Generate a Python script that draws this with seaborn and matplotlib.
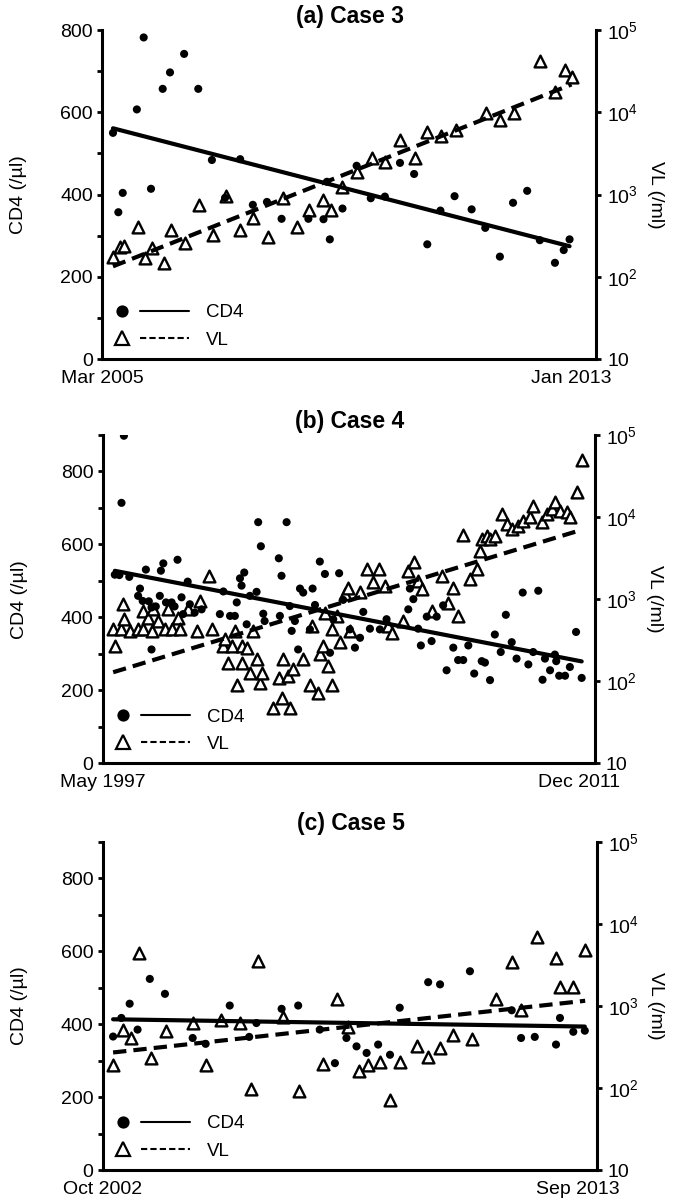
import numpy as np
import matplotlib
matplotlib.use("Agg")
import matplotlib.pyplot as plt
import seaborn as sns
from matplotlib.lines import Line2D
from matplotlib.legend_handler import HandlerBase
from matplotlib.ticker import FixedLocator, NullLocator

# ---------------- data (x = months since first visit) ----------------
a_cd4_month = [0, 1.1, 2.0, 4.9, 6.3, 7.8, 10.2, 11.7, 14.6, 17.5, 20.3, 23.0, 26.1, 28.7, 31.6, 34.6,
               40.1, 43.2, 43.9, 44.5, 47.1, 50.0, 52.9, 55.8, 58.9, 61.8, 64.5, 67.2, 70.1, 73.6, 76.4,
               79.4, 82.1, 85.0, 87.6, 90.7, 92.5, 93.7]
a_cd4 = [550, 357, 404, 607, 782, 414, 657, 697, 742, 657, 484, 392, 486, 375, 382, 341, 341, 340, 431,
         291, 366, 470, 391, 395, 477, 450, 279, 361, 396, 364, 319, 249, 380, 409, 289, 234, 265, 291]
a_vl_month = [0, 1.5, 2.3, 5.1, 6.6, 8.0, 10.4, 11.9, 14.7, 17.7, 20.5, 23.2, 26.1, 28.8, 31.9, 34.8,
              37.8, 40.3, 43.2, 44.7, 47.1, 50.1, 53.1, 55.9, 58.9, 61.9, 64.5, 67.4, 70.3, 76.6, 79.4,
              82.3, 87.6, 90.8, 92.7, 94.1]
a_vl = [175, 232, 236, 405, 168, 222, 146, 370, 255, 745, 322, 960, 370, 514, 307, 898, 405, 647, 857,
        647, 1245, 1893, 2754, 2504, 4604, 2754, 5800, 5140, 6080, 9700, 8050, 9880, 42000, 17800,
        32700, 26600]

b_cd4_month = [0.7, 2.4, 3.2, 4.1, 6.1, 9.4, 10.1, 11.1, 12.3, 13.4, 14.4, 14.4, 16.0, 17.5, 17.9, 18.8,
               19.8, 21.9, 23.0, 24.1, 25.6, 26.2, 27.9, 28.7, 30.5, 33.1, 39.9, 41.2, 43.7, 45.5, 46.2,
               47.4, 48.0, 49.0, 49.9, 51.1, 53.6, 54.2, 55.2, 56.1, 56.6, 61.9, 62.3, 62.9, 64.8, 66.0,
               66.7, 67.9, 69.1, 69.8, 71.0, 73.5, 74.5, 75.4, 77.2, 79.1, 81.0, 82.2, 84.4, 85.9, 88.4,
               90.3, 92.2, 93.4, 95.9, 99.6, 102.1, 110.2, 110.8, 112.1, 113.9, 114.9, 117.1, 118.9,
               120.8, 123.2, 124.5, 127.0, 128.8, 130.7, 132.6, 134.8, 137.6, 138.8, 140.7, 142.5, 144.7,
               146.6, 148.8, 150.6, 152.9, 155.0, 156.8, 158.7, 160.3, 161.2, 163.1, 164.9, 165.4,
               166.5, 168.7, 170.5, 172.8, 174.9]
b_cd4 = [517, 516, 714, 898, 511, 459, 479, 445, 531, 444, 427, 312, 430, 459, 528, 548, 441, 441, 430,
         558, 455, 409, 498, 436, 413, 422, 409, 471, 404, 404, 441, 507, 487, 523, 381, 459, 470, 661,
         595, 410, 390, 562, 404, 514, 661, 431, 363, 390, 312, 479, 468, 367, 479, 434, 553, 519, 303,
         395, 521, 448, 367, 317, 344, 415, 369, 367, 395, 422, 479, 450, 369, 323, 402, 335, 402, 433,
         255, 317, 283, 283, 323, 246, 280, 276, 228, 353, 305, 407, 332, 287, 468, 271, 305, 473, 229,
         287, 255, 298, 280, 240, 240, 264, 360, 234]
b_vl_month = [0.1, 0.7, 3.2, 3.6, 4.1, 6.3, 9.4, 11.3, 11.3, 13.2, 14.4, 15.0, 16.9, 19.4, 20.6, 21.9,
              24.4, 25.0, 28.1, 31.2, 32.5, 35.8, 36.8, 41.2, 41.8, 43.0, 44.3, 45.5, 46.2, 48.0, 48.0,
              49.9, 51.1, 52.4, 53.6, 54.9, 55.5, 59.8, 61.9, 62.9, 63.5, 65.4, 66.0, 67.3, 71.0, 73.5,
              74.1, 76.6, 77.2, 78.5, 79.1, 80.3, 81.6, 81.6, 83.5, 84.7, 86.6, 87.8, 88.4, 92.2, 94.7,
              97.1, 99.4, 101.5, 102.7, 104.0, 108.3, 110.2, 112.4, 113.9, 115.2, 118.9, 122.6, 125.1,
              127.0, 128.8, 130.7, 133.2, 135.7, 136.9, 137.6, 139.4, 140.7, 142.5, 145.0, 146.9, 148.8,
              151.2, 153.1, 155.6, 156.8, 160.0, 161.8, 163.7, 164.9, 166.8, 169.3, 170.5, 173.0, 174.9]
b_vl = [428, 267, 428, 866, 567, 407, 428, 428, 717, 596, 407, 753, 541, 428, 753, 428, 596, 428, 753,
        407, 950, 1924, 428, 267, 323, 168, 267, 407, 91, 267, 168, 256, 126, 407, 184, 95, 126, 47, 110,
        62, 188, 115, 47, 139, 184, 91, 470, 72, 212, 267, 686, 152, 91, 428, 623, 299, 1148, 1386, 407,
        1205, 2322, 1596, 2322, 1452, 470, 390, 541, 2213, 2806, 1671, 1322, 717, 1924, 908, 1386, 623,
        6060, 1754, 2322, 3890, 5410, 5940, 5410, 5940, 10900, 8260, 7170, 7870, 9060, 9960, 13800,
        8650, 10900, 12600, 15200, 12000, 11500, 9960, 20200, 49200]

c_cd4_month = [0, 2.3, 4.6, 6.8, 10.2, 14.4, 22.1, 25.7, 32.4, 37.8, 39.8, 46.8, 51.4, 57.4, 61.6, 64.8,
               67.6, 70.4, 73.6, 76.9, 79.6, 87.5, 90.8, 99.1, 110.7, 113.3, 117.1, 123.0, 124.1, 127.8,
               131.0]
c_cd4 = [366, 417, 456, 385, 524, 483, 362, 346, 451, 365, 403, 442, 451, 385, 293, 362, 339, 321, 344,
         316, 445, 515, 509, 545, 438, 362, 365, 344, 417, 379, 382]
c_vl_month = [0, 2.8, 4.9, 7.1, 10.5, 14.6, 22.2, 25.9, 30.1, 35.2, 38.2, 40.3, 47.1, 51.7, 58.3, 62.1,
              65.3, 68.3, 70.8, 74.1, 76.9, 79.6, 84.3, 87.5, 90.9, 94.4, 99.6, 106.3, 110.8, 113.3,
              117.6, 123.0, 124.1, 127.8, 131.1]
c_vl = [190, 507, 402, 4440, 230, 498, 623, 190, 671, 623, 96, 3515, 725, 92, 194, 1200, 556, 162, 190,
        208, 71, 208, 324, 240, 303, 441, 391, 1200, 3445, 889, 6950, 3795, 1710, 1710, 4790]

titles = ["(a) Case 3", "(b) Case 4", "(c) Case 5"]
xtick_pos = [[-2.2, 94.0], [-3.7, 174.0], [-2.8, 129.0]]
xtick_labels = [["Mar 2005", "Jan 2013"], ["May 1997", "Dec 2011"], ["Oct 2002", "Sep 2013"]]
x_limits = [(-2.2, 99.2), (-3.7, 179.9), (-2.8, 134.3)]
cd4_top = [800, 900, 900]
vl_ticks = [10, 100, 1000, 10000, 100000]
vl_tick_labels = ["10", "$10^{2}$", "$10^{3}$", "$10^{4}$", "$10^{5}$"]

# ---------------- style ----------------
sns.set_theme(style="ticks")
plt.rcParams['font.family'] = ['Liberation Sans', 'DejaVu Sans']
plt.rcParams['mathtext.fontset'] = 'custom'
plt.rcParams['mathtext.rm'] = 'Liberation Sans'
plt.rcParams['mathtext.it'] = 'Liberation Sans:italic'
plt.rcParams['mathtext.bf'] = 'Liberation Sans:bold'
plt.rcParams['axes.linewidth'] = 2.2


class LegendKey:
    def __init__(self, marker, ms, mfc, ls):
        self.marker, self.ms, self.mfc, self.ls = marker, ms, mfc, ls


class LegendKeyHandler(HandlerBase):
    def create_artists(self, legend, orig, xdescent, ydescent, width, height, fontsize, trans):
        y = height / 2 - ydescent
        x0 = -xdescent
        m = Line2D([x0 + 0.12 * width], [y], marker=orig.marker, markersize=orig.ms,
                   markerfacecolor=orig.mfc, markeredgecolor='black', markeredgewidth=1.6, ls='none')
        ln = Line2D([x0 + 0.36 * width, x0 + width], [y, y], color='black', lw=1.5, ls=orig.ls)
        m.set_transform(trans)
        ln.set_transform(trans)
        return [m, ln]


fig = plt.figure(figsize=(6.75, 12.02), dpi=100)
fig.patch.set_facecolor('white')

rects = [(0.1515, 0.7013, 0.7320, 0.2737),
         (0.1526, 0.3650, 0.7290, 0.2731),
         (0.1526, 0.0266, 0.7314, 0.2731)]
title_y = [1.040, 1.040, 1.057]
data = [(a_cd4_month, a_cd4, a_vl_month, a_vl),
        (b_cd4_month, b_cd4, b_vl_month, b_vl),
        (c_cd4_month, c_cd4, c_vl_month, c_vl)]

for i in range(3):
    cm, cv, vm, vv = [np.asarray(d, dtype=float) for d in data[i]]
    ax = fig.add_axes(rects[i])
    ax2 = ax.twinx()
    ax.set_zorder(ax2.get_zorder() + 1)
    ax.patch.set_visible(False)
    ax2.patch.set_facecolor('white')

    # VL on log axis (right)
    ax2.set_yscale('log')
    sns.scatterplot(x=vm, y=vv, ax=ax2, marker='^', s=72, facecolor='white',
                    edgecolor='black', linewidth=1.7, zorder=3, legend=False)
    coef = np.polyfit(vm, np.log10(vv), 1)
    xs = np.array([vm.min(), vm.max()])
    ax2.plot(xs, 10 ** np.polyval(coef, xs), color='black', lw=3.0,
             dashes=(3.2, 1.7), zorder=4)

    # CD4 on linear axis (left)
    sns.regplot(x=cm, y=cv, ax=ax, scatter=False, ci=None, truncate=True,
                line_kws=dict(color='black', lw=3.0, zorder=4))
    sns.scatterplot(x=cm, y=cv, ax=ax, color='black', s=34, edgecolor='none',
                    zorder=5, legend=False)

    # axes limits / ticks
    ax.set_xlim(*x_limits[i])
    ax.set_ylim(0, cd4_top[i])
    ax2.set_ylim(10, 1e5)
    yt = list(range(0, cd4_top[i] + 1, 100))
    ax.yaxis.set_major_locator(FixedLocator(yt))
    ax.set_yticklabels([str(v) if (v % 200 == 0 and v <= 800) else "" for v in yt])
    ax2.yaxis.set_major_locator(FixedLocator(vl_ticks))
    ax2.yaxis.set_minor_locator(NullLocator())
    ax2.set_yticklabels(vl_tick_labels)
    ax.set_xticks(xtick_pos[i])
    ax.set_xticklabels(xtick_labels[i])
    ax.tick_params(axis='x', length=0, labelsize=14, pad=8, colors='black')
    ax.tick_params(axis='y', direction='out', length=3.8, width=2.0, labelsize=14,
                   pad=3, colors='black')
    ax2.tick_params(axis='y', direction='out', length=3.8, width=2.0, labelsize=14,
                    pad=4, colors='black')
    ax2.tick_params(axis='x', length=0)

    for s in ['top', 'right']:
        ax.spines[s].set_visible(False)
    for s in ['top', 'left', 'bottom']:
        ax2.spines[s].set_visible(False)
    for s in ['left', 'bottom']:
        ax.spines[s].set_linewidth(2.2)
        ax.spines[s].set_color('black')
    ax2.spines['right'].set_linewidth(2.2)
    ax2.spines['right'].set_color('black')

    ax.set_xlabel("")
    ax.set_ylabel("CD4 (/µl)", fontsize=14, color='black')
    ax.yaxis.set_label_coords(-0.152, 0.5)
    ax2.set_ylabel("VL (/ml)", fontsize=14, rotation=270, va='center', color='black')
    ax2.yaxis.set_label_coords(1.120, 0.5)

    ax.text(0.502, title_y[i], titles[i], transform=ax.transAxes, ha='center', va='center',
            fontsize=16.5, fontweight='bold', color='black')

    handles = [LegendKey('o', 7.2, 'black', '-'), LegendKey('^', 10.5, 'white', (0, (3, 1.5)))]
    leg = ax.legend(handles, ["CD4", "VL"], handler_map={LegendKey: LegendKeyHandler()},
                    loc='lower left', frameon=False, fontsize=13.5, handlelength=4.1,
                    handletextpad=0.9, labelspacing=0.55, borderpad=0.2, borderaxespad=0.35)
    for t in leg.get_texts():
        t.set_color('black')

fig.savefig("out.png", dpi=100, facecolor='white')
